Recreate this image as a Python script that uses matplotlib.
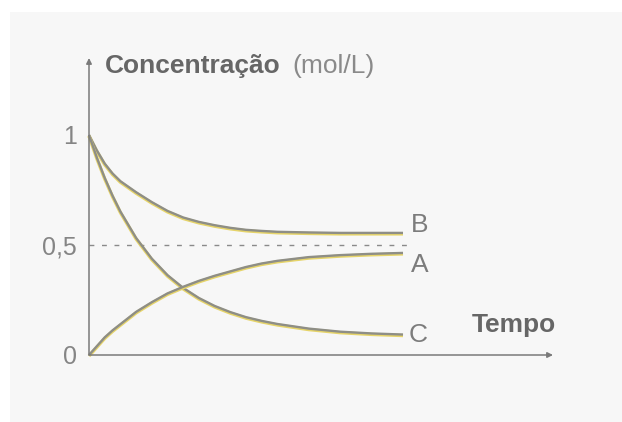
import matplotlib
matplotlib.use('Agg')
import matplotlib.pyplot as plt
import matplotlib.transforms as mtransforms
from matplotlib.patches import Rectangle

plt.rcParams['font.family'] = ['Liberation Sans', 'DejaVu Sans']

# values (time in arbitrary units, concentration in mol/L)
tempo = [0, 0.25, 0.5, 0.75, 1.0, 1.5, 2.0, 2.5, 3.0, 3.5, 4.0, 4.5, 5.0, 5.5, 6.0,
         7.0, 8.0, 9.0, 10.0]
conc_b = [1.0, 0.93, 0.87, 0.825, 0.79, 0.74, 0.695, 0.655, 0.625, 0.605, 0.59, 0.578,
          0.569, 0.564, 0.56, 0.557, 0.555, 0.555, 0.555]
conc_c = [1.0, 0.897, 0.805, 0.724, 0.652, 0.532, 0.438, 0.363, 0.305, 0.259, 0.223,
          0.195, 0.172, 0.155, 0.141, 0.12, 0.106, 0.098, 0.093]
conc_a = [0.0, 0.04, 0.08, 0.112, 0.14, 0.196, 0.24, 0.28, 0.31, 0.337, 0.36, 0.38,
          0.40, 0.416, 0.428, 0.445, 0.454, 0.46, 0.464]

ytick_vals = [0, 0.5, 1]
ytick_labels = ['0', '0,5', '1']

W, H = 622, 422
def fx(px):
    return px / W
def fy(py):
    return 1 - py / H

fig = plt.figure(figsize=(6.22, 4.22), dpi=100, facecolor='white')
# light grey scanned-page background
fig.patches.append(Rectangle((fx(10), 0), 1 - fx(10), fy(12), transform=fig.transFigure,
                             facecolor='#f7f7f7', edgecolor='none', zorder=-10))

x_max = (553 - 89) / 31.4
y_max = (355 - 58) / 220
ax = fig.add_axes([fx(89), fy(355), fx(553) - fx(89), fy(58) - fy(355)])
ax.set_zorder(2)
ax.set_facecolor('none')
ax.set_xlim(0, x_max)
ax.set_ylim(0, y_max)
for s in ax.spines.values():
    s.set_visible(False)
ax.set_xticks([])
ax.set_yticks(ytick_vals)
ax.set_yticklabels(ytick_labels, fontsize=18, color='#858585')
ax.tick_params(axis='y', length=0, pad=9)

axis_col = '#7a7a7a'
ax.annotate('', xy=(0, y_max), xytext=(0, 0),
            arrowprops=dict(arrowstyle='-|>', color=axis_col, lw=1.1, mutation_scale=8,
                            shrinkA=0, shrinkB=0), annotation_clip=False)
ax.annotate('', xy=(x_max, 0), xytext=(0, 0),
            arrowprops=dict(arrowstyle='-|>', color=axis_col, lw=1.1, mutation_scale=8,
                            shrinkA=0, shrinkB=0), annotation_clip=False)

# dashed reference at 0.5
ax.plot([0, 10.3], [0.5, 0.5], color='#8a8a8a', lw=1.0, dashes=(3.5, 5.5), clip_on=False)

shift = mtransforms.offset_copy(ax.transData, fig=fig, x=0, y=-1.0, units='dots')
for c in [conc_b, conc_c, conc_a]:
    ax.plot(tempo, c, color='#e6d46a', lw=2.4, transform=shift, solid_joinstyle='round',
            solid_capstyle='butt', clip_on=False)
    ax.plot(tempo, c, color='#8e8e86', lw=1.7, solid_joinstyle='round',
            solid_capstyle='butt', clip_on=False)

lab_col = '#7c7c7c'
fig.text(fx(411), fy(232), 'B', fontsize=19, color=lab_col, va='baseline')
fig.text(fx(411), fy(272), 'A', fontsize=19, color=lab_col, va='baseline')
fig.text(fx(409), fy(342), 'C', fontsize=19, color=lab_col, va='baseline')

fig.text(fx(105), fy(73), 'Concentração', fontsize=19, fontweight='bold', color='#666666',
         va='baseline')
fig.text(fx(292), fy(73), '(mol/L)', fontsize=19, color='#8a8a8a', va='baseline')
fig.text(fx(472), fy(332), 'Tempo', fontsize=19, fontweight='bold', color='#666666',
         va='baseline')

fig.savefig('out.png', dpi=100, facecolor='white')
